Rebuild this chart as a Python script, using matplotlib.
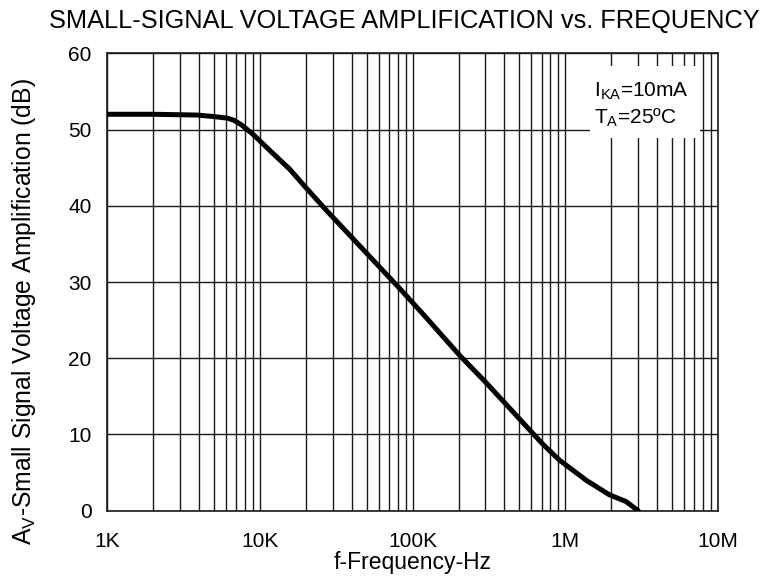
import matplotlib
matplotlib.use("Agg")
import matplotlib.pyplot as plt
from matplotlib.patches import Rectangle
from matplotlib.ticker import FixedLocator, LogLocator, NullFormatter

plt.rcParams['font.family'] = ['Liberation Sans', 'DejaVu Sans']

# okunan egri degerleri (Hz, dB)
freq = [1e3, 2e3, 3.9e3, 5e3, 6.1e3, 6.8e3, 7.6e3, 9e3, 1.2e4, 1.57e4, 2.02e4,
        2.73e4, 4.73e4, 8.2e4, 1.22e5, 2.03e5, 3.03e5, 7.07e5, 9.14e5, 1.37e6,
        1.94e6, 2.5e6, 3.0e6]
gain = [52, 52, 51.9, 51.7, 51.5, 51.2, 50.6, 49.4, 47.0, 44.8, 42.3,
        39.4, 34.3, 29.2, 25.4, 20.4, 16.8, 8.8, 6.65, 4.0,
        2.1, 1.2, 0]

xticks = [1e3, 1e4, 1e5, 1e6, 1e7]
xlabels = ['1K', '10K', '100K', '1M', '10M']
yticks = [0, 10, 20, 30, 40, 50, 60]

fig = plt.figure(figsize=(7.71, 5.78), dpi=100)
ax = fig.add_axes([0.1388, 0.1164, 0.7925, 0.7914])

ax.plot(freq, gain, color='black', linewidth=3.6, solid_capstyle='round', zorder=4)

ax.set_xscale('log')
ax.set_xlim(1e3, 1e7)
ax.set_ylim(0, 60)
ax.xaxis.set_major_locator(FixedLocator(xticks))
ax.set_xticklabels(xlabels)
ax.xaxis.set_minor_locator(LogLocator(base=10, subs=range(2, 10)))
ax.xaxis.set_minor_formatter(NullFormatter())
ax.set_yticks(yticks)

# izgara
ax.grid(which='both', axis='x', color='#1a1a1a', linewidth=1.0)
ax.grid(which='major', axis='y', color='#1a1a1a', linewidth=1.0)
ax.set_axisbelow(True)
ax.tick_params(which='both', length=0, labelsize=15)
ax.tick_params(axis='x', pad=15)
ax.tick_params(axis='y', pad=11)
for s in ax.spines.values():
    s.set_linewidth(1.2)
    s.set_color('#1a1a1a')

# etiket kutusu
ax.add_patch(Rectangle((0.79, 0.815), 0.18, 0.157, transform=ax.transAxes,
                       facecolor='white', edgecolor='none', zorder=2))
ax.text(0.797, 0.905, r'I$_{\mathregular{KA}}$=10mA', transform=ax.transAxes,
        fontsize=15, zorder=3, va='baseline')
ax.text(0.797, 0.846, r'T$_{\mathregular{A}}$=25ºC', transform=ax.transAxes,
        fontsize=15, zorder=3, va='baseline')

ax.set_xlabel('f-Frequency-Hz', fontsize=16.5, labelpad=0)
ax.set_ylabel(r'A$_{\mathregular{V}}$-Small Signal Voltage Amplification (dB)',
              fontsize=17.8)
ax.yaxis.set_label_coords(-0.113, 0.4355)
fig.text(0.525, 0.9637, 'SMALL-SIGNAL VOLTAGE AMPLIFICATION vs. FREQUENCY',
         ha='center', va='center', fontsize=18.3)

fig.savefig('out.png', dpi=100)
